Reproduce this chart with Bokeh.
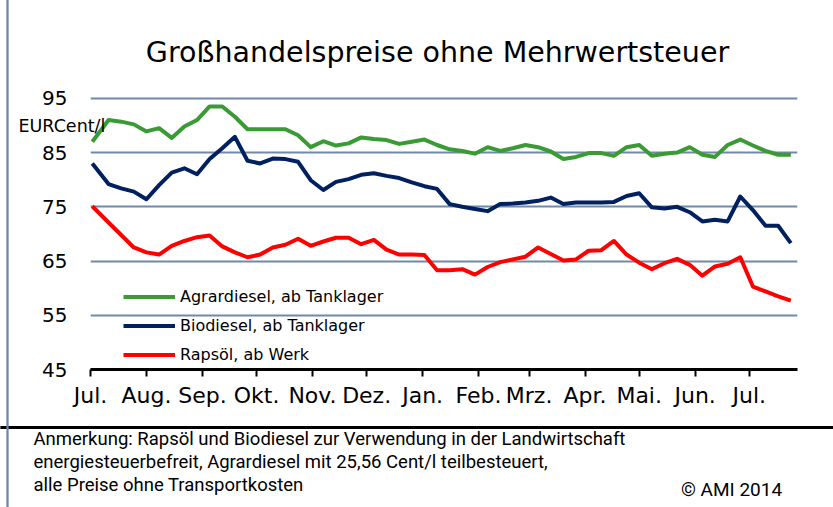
import pandas as pd
from bokeh.plotting import figure
from bokeh.models import Range1d, FixedTicker, Label
from bokeh.embed import file_html
from bokeh.resources import INLINE

# ---------------- data ----------------
start = pd.Timestamp("2013-07-01")
dates = [pd.Timestamp("2013-07-02")] + list(pd.date_range("2013-07-11", periods=55, freq="7D"))
days = [(d - start).days for d in dates]

agrardiesel = [87.0, 91.0, 90.7, 90.2, 88.9, 89.5, 87.7, 89.8, 91.0, 93.5,
               93.5, 91.6, 89.3, 89.3, 89.3, 89.3, 88.2, 86.0, 87.1, 86.3,
               86.7, 87.8, 87.5, 87.3, 86.6, 87.0, 87.4, 86.4, 85.6, 85.3,
               84.8, 86.0, 85.3, 85.8, 86.4, 86.0, 85.2, 83.8, 84.2, 84.9,
               84.9, 84.4, 86.0, 86.4, 84.4, 84.8, 85.0, 86.0, 84.6, 84.2,
               86.4, 87.4, 86.3, 85.3, 84.6, 84.6]
biodiesel = [83.0, 79.2, 78.4, 77.8, 76.4, 79.0, 81.3, 82.1, 81.0, 83.8,
             85.8, 87.9, 83.5, 83.0, 83.9, 83.8, 83.3, 79.9, 78.1, 79.6,
             80.1, 80.9, 81.2, 80.7, 80.3, 79.5, 78.8, 78.3, 75.5, 75.0,
             74.6, 74.2, 75.5, 75.6, 75.8, 76.1, 76.7, 75.5, 75.8, 75.8,
             75.8, 75.9, 77.0, 77.5, 74.9, 74.7, 75.0, 74.0, 72.3, 72.6,
             72.3, 76.9, 74.4, 71.5, 71.5, 68.3]
rapsoel = [75.1, 72.1, 69.8, 67.5, 66.6, 66.2, 67.8, 68.7, 69.4, 69.7,
           67.7, 66.6, 65.7, 66.2, 67.5, 68.0, 69.1, 67.8, 68.6, 69.3,
           69.3, 68.1, 68.9, 67.1, 66.2, 66.2, 66.1, 63.3, 63.3, 63.5,
           62.5, 63.9, 64.8, 65.3, 65.8, 67.5, 66.3, 65.1, 65.3, 66.9,
           67.0, 68.7, 66.2, 64.7, 63.5, 64.6, 65.4, 64.3, 62.3, 64.0,
           64.5, 65.7, 60.3, 59.4, 58.5, 57.7]

series_names = ["Agrardiesel, ab Tanklager", "Biodiesel, ab Tanklager", "Rapsöl, ab Werk"]
series_colors = ["#3A9B35", "#002060", "#FF0000"]

month_labels = ["Jul.", "Aug.", "Sep.", "Okt.", "Nov.", "Dez.", "Jan.",
                "Feb.", "Mrz.", "Apr.", "Mai.", "Jun.", "Jul."]
month_days = [(d - start).days for d in pd.date_range("2013-07-01", periods=13, freq="MS")]
y_ticks = [45, 55, 65, 75, 85, 95]
grid_ticks = [55, 65, 75, 85, 95]

title_text = "Großhandelspreise ohne Mehrwertsteuer"
unit_text = "EURCent/l"
note_lines = ["Anmerkung: Rapsöl und Biodiesel zur Verwendung in der Landwirtschaft",
              "energiesteuerbefreit, Agrardiesel mit 25,56 Cent/l teilbesteuert,",
              "alle Preise ohne Transportkosten"]
copyright_text = "© AMI 2014"

# ---------------- layout ----------------
X0, X1 = 0, 391.7
Y0, Y1 = 45, 97
LEFT, TOP = 90, 87
FW, FH = 707, 282
W, H = 833, 507

PXD = FW / (X1 - X0)
PYV = FH / (Y1 - Y0)


def dx(sx):
    return X0 + (sx - LEFT) / PXD


def dy(sy):
    return Y0 + (TOP + FH - sy) / PYV


p = figure(width=W, height=H, output_backend="svg", toolbar_location=None,
           x_range=Range1d(X0, X1), y_range=Range1d(Y0, Y1),
           min_border_left=LEFT, min_border_right=W - LEFT - FW,
           min_border_top=TOP, min_border_bottom=H - TOP - FH)
p.outline_line_color = None
p.background_fill_color = "white"
p.border_fill_color = "white"

# grid
p.xgrid.visible = False
p.ygrid.ticker = FixedTicker(ticks=grid_ticks)
p.ygrid.grid_line_color = "#7189A8"
p.ygrid.grid_line_width = 2

# y axis
p.yaxis.ticker = FixedTicker(ticks=y_ticks)
p.yaxis.axis_line_color = None
p.yaxis.major_tick_line_color = None
p.yaxis.minor_tick_line_color = None
p.yaxis.major_label_standoff = 17
p.yaxis.major_label_text_font = "DejaVu Sans"
p.yaxis.major_label_text_font_size = "20px"
p.yaxis.major_label_text_color = "black"

# x axis
p.xaxis.ticker = FixedTicker(ticks=month_days)
p.xaxis.major_label_overrides = {d: lab for d, lab in zip(month_days, month_labels)}
p.xaxis.axis_line_color = "black"
p.xaxis.axis_line_width = 3
p.xaxis.major_tick_line_color = "black"
p.xaxis.major_tick_line_width = 2
p.xaxis.major_tick_out = 7
p.xaxis.major_tick_in = 0
p.xaxis.minor_tick_line_color = None
p.xaxis.major_label_standoff = 6
p.xaxis.major_label_text_font = "DejaVu Sans"
p.xaxis.major_label_text_font_size = "22px"
p.xaxis.major_label_text_color = "black"

# lines
for ys, name, col in zip([agrardiesel, biodiesel, rapsoel], series_names, series_colors):
    p.line(days, ys, line_color=col, line_width=4, line_join="round", legend_label=name)

lg = p.legend[0]
lg.location = (33, 0)
lg.padding = 0
lg.margin = 0
lg.border_line_color = None
lg.background_fill_alpha = 0
lg.glyph_width = 52
lg.glyph_height = 29
lg.label_height = 29
lg.spacing = 0
lg.label_standoff = 5
lg.label_text_font = "DejaVu Sans"
lg.label_text_font_size = "16px"
lg.label_text_color = "black"


def add_text(text, sx, sy, size, font, align, place):
    p.add_layout(Label(x=dx(sx), y=dy(sy), text=text, text_align=align,
                       text_baseline="middle", text_font=font,
                       text_font_size=size, text_color="black"), place)


def add_bar(cx, cy, half_w, half_h, color, place):
    p.add_layout(Label(x=dx(cx), y=dy(cy), text=" ", text_align="center",
                       text_baseline="middle", text_font_size="1px",
                       padding=(half_w, half_h), background_fill_color=color,
                       border_line_color=None), place)


# texts (placed in side panels so they are not clipped to the frame)
add_text(title_text, 437, 52, "28.5px", "DejaVu Sans", "center", "above")
add_text(unit_text, 18, 125, "17.5px", "DejaVu Sans", "left", "above")
add_text(copyright_text, 731, 489, "19px", "Roboto", "center", "above")
for line, sy in zip(note_lines, [438, 461, 484]):
    add_text(line, 33, sy, "18.5px", "Roboto", "left", "below")

# separator (horizontal, lives in the bottom panel) and left border (left panel)
add_bar(420, 427, 420, 1, "black", "below")
add_bar(7, 253, 1, 260, "#6F87A6", "left")

open("out.html", "w").write(file_html(p, INLINE))
